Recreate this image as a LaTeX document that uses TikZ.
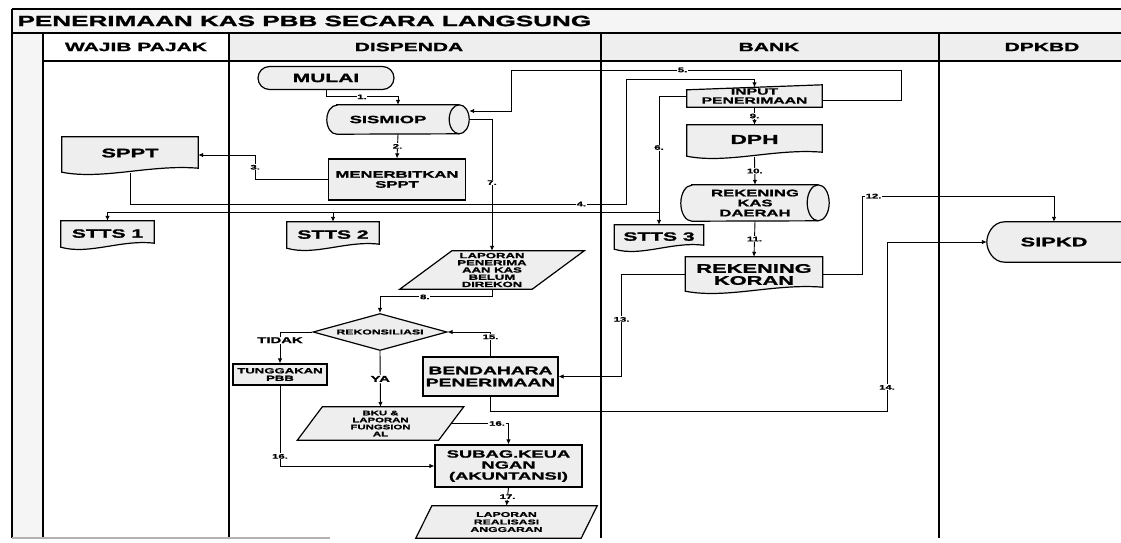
\documentclass[tikz,border=0pt]{standalone}
\usepackage{fontspec}
\newfontfamily\flowfont[UprightFont={* Bold},FakeStretch=1.75,FakeBold=1.5]{Liberation Sans}
\usetikzlibrary{shapes.geometric,arrows.meta,backgrounds,calc}
\colorlet{boxgray}{gray!13}
\colorlet{bandgray}{gray!8}
\newcommand\fsz[2]{\fontsize{#1}{#2}\selectfont}
\tikzset{shp/.style={draw,line width=1.2pt,fill=boxgray}}
% outlines of the flowchart symbols, drawn round a plain node
\newcommand\docout[1]{\path[shp] (#1.north west) -- (#1.north east) -- ([yshift=5pt]#1.south east)
  .. controls ($(#1.south east)!0.35!(#1.south west)+(0,9pt)$) and ($(#1.south east)!0.7!(#1.south west)+(0,-7pt)$) .. ([yshift=1pt]#1.south west) -- cycle;}
\newcommand\cylout[3]{\path[shp] ([xshift=#2]#1.north west) -- ([xshift=-#2]#1.north east)
  arc[start angle=90,end angle=-90,x radius=#2,y radius=#3] -- ([xshift=#2]#1.south west)
  arc[start angle=270,end angle=90,x radius=#2,y radius=#3] -- cycle;
  \draw[line width=1.2pt] ([xshift=-#2]#1.north east) arc[start angle=90,end angle=270,x radius=#2,y radius=#3];}
\newcommand\paraout[2]{\path[shp] ([xshift=-#2]#1.south west) -- ([xshift=#2]#1.north west) -- ([xshift=#2]#1.north east) -- ([xshift=-#2]#1.south east) -- cycle;}
\newcommand\inout[1]{\path[shp] (#1.south west) -- ([yshift=-5pt]#1.north west) -- (#1.north east) -- (#1.south east) -- cycle;}
\begin{document}
\begin{tikzpicture}[x=1pt,y=-1pt,
  frame/.style={line width=1.2pt},
  box/.style={shp,inner sep=1pt,align=center},
  plain/.style={inner sep=0pt,align=center},
  arr/.style={line width=0.9pt,-{Latex[length=5pt,width=4.5pt]}},
  con/.style={line width=0.9pt},
  lbl/.style={font=\flowfont\fsz{6.5}{7},fill=white,inner sep=0.7pt},
  hdr/.style={font=\flowfont\fsz{12}{13}}]
\useasboundingbox (0,0) rectangle (1121,542);
% swimlanes
\fill[bandgray] (12,9) rectangle (1121,33);
\fill[boxgray] (229,33) rectangle (1121,61);
\fill[bandgray] (12,33) rectangle (43,538);
\draw[frame] (12,9) -- (1121,9) (12,33) -- (1121,33) (43,61) -- (1121,61);
\draw[frame] (12,9) -- (12,538) (43,33) -- (43,538) (229,33) -- (229,538) (601,33) -- (601,538) (939,33) -- (939,538);
\draw[frame,gray!60] (12,538) -- (330,538);
\node[font=\flowfont\fsz{14.9}{16},anchor=west] (judul) at (14,21) {PENERIMAAN KAS PBB SECARA LANGSUNG};
\node[hdr] (hwp) at (136,47) {WAJIB PAJAK};
\node[hdr] (hdis) at (409,47) {DISPENDA};
\node[hdr] (hbank) at (769,47) {BANK};
\node[hdr] (hdpk) at (1042,47) {DPKBD};

% dispenda
\node[shp,rounded corners=11.5pt,minimum width=136pt,minimum height=23pt,font=\flowfont\fsz{12}{12}] (mulai) at (326,78) {MULAI};
\node[plain,minimum width=142pt,minimum height=29pt,font=\flowfont\fsz{10.5}{11}] (sismiop) at (398,119.5) {SISMIOP\hspace*{20pt}};
\node[box,minimum width=137pt,minimum height=41pt,font=\flowfont\fsz{9.5}{10}] (terbit) at (397,179.5) {MENERBITKAN\\SPPT};
\node[plain,minimum width=92pt,minimum height=27pt,font=\flowfont\fsz{12}{12}] (stts2) at (333,235.5) {\raisebox{2pt}{STTS 2}};
\node[plain,minimum width=132pt,minimum height=38pt,font=\flowfont\fsz{7.5}{7.2}] (lap) at (492,270) {LAPORAN\\PENERIMA\\AAN KAS\\BELUM\\DIREKON};
\node[shp,diamond,aspect=3.6,inner sep=0pt,minimum width=134pt,minimum height=37pt,font=\flowfont\fsz{7}{7}] (rek) at (380,332) {REKONSILIASI};
\node[box,minimum width=94pt,minimum height=21pt,font=\flowfont\fsz{7.5}{7.5}] (tung) at (280,374.5) {TUNGGAKAN\\PBB};
\node[box,minimum width=135pt,minimum height=39pt,font=\flowfont\fsz{11}{12}] (bend) at (490.5,376.5) {BENDAHARA\\PENERIMAAN};
\node[plain,minimum width=141pt,minimum height=33pt,font=\flowfont\fsz{6.5}{7}] (bku) at (380.5,423.5) {BKU \&\\LAPORAN\\FUNGSION\\AL};
\node[box,minimum width=147pt,minimum height=42pt,font=\flowfont\fsz{10.5}{11}] (sub) at (508.5,466) {SUBAG.KEUA\\NGAN\\(AKUNTANSI)};
\node[plain,minimum width=165pt,minimum height=32pt,font=\flowfont\fsz{7}{7.5}] (lr) at (506.5,522) {LAPORAN\\REALISASI\\ANGGARAN};

% wajib pajak
\node[plain,minimum width=136pt,minimum height=36pt,font=\flowfont\fsz{12.5}{13}] (sppt) at (130,155) {\raisebox{4pt}{SPPT}};
\node[plain,minimum width=93pt,minimum height=27pt,font=\flowfont\fsz{12}{12}] (stts1) at (107.5,234.5) {\raisebox{2pt}{STTS 1}};

% bank
\node[plain,minimum width=135pt,minimum height=22pt,font=\flowfont\fsz{9}{9}] (inp) at (754.5,96) {INPUT\\PENERIMAAN};
\node[plain,minimum width=135pt,minimum height=32pt,font=\flowfont\fsz{13}{13}] (dph) at (754.5,141) {\raisebox{3pt}{DPH}};
\node[plain,minimum width=148pt,minimum height=36pt,font=\flowfont\fsz{9.5}{10}] (rkd) at (755,203) {REKENING\\KAS\\DAERAH};
\node[plain,minimum width=89pt,minimum height=25pt,font=\flowfont\fsz{12}{12}] (stts3) at (659,237.5) {\raisebox{2pt}{STTS 3}};
\node[plain,minimum width=137pt,minimum height=35pt,font=\flowfont\fsz{12.5}{12}] (rk) at (754,274.5) {REKENING\\KORAN};

% dpkbd
\node[plain,minimum width=134pt,minimum height=40pt,font=\flowfont\fsz{12.5}{13}] (sipkd) at (1054,242) {SIPKD};

\begin{scope}[on background layer]
\cylout{sismiop}{10pt}{14.5pt}
\cylout{rkd}{11pt}{18pt}
\docout{sppt} \docout{stts1} \docout{stts2} \docout{stts3} \docout{dph} \docout{rk}
\paraout{lap}{26pt} \paraout{bku}{12.5pt} \paraout{lr}{8pt}
\inout{inp}
\path[shp] (sipkd.north east) -- ([xshift=18pt]sipkd.north west) .. controls ([xshift=6pt]sipkd.north west) and ([yshift=8pt]sipkd.west) .. (sipkd.west)
  .. controls ([yshift=-8pt]sipkd.west) and ([xshift=6pt]sipkd.south west) .. ([xshift=18pt]sipkd.south west) -- (sipkd.south east);
\end{scope}

% alur
\draw[arr] (mulai.south) |- node[lbl,pos=0.75] (l1) {1.} ([yshift=8pt]sismiop.north) -- (sismiop.north);
\draw[arr] (sismiop.south) -- node[lbl] (l2) {2.} (terbit.north);
\draw[arr] (terbit.west) -| node[lbl,pos=0.75] (l3) {3.} ([xshift=57pt]sppt.east) -- (sppt.east);
\draw[arr] (sppt.south) |- node[lbl,pos=0.955] (l4) {4.} (626,204) -- (626,79) -| ([yshift=-2.5pt]inp.north);
\draw[arr] ([yshift=-4pt]inp.east) -- (901,100) -- (901,70) -- node[lbl,pos=0.56] (l5) {5.} (511,70) -- (511,111) -- ([yshift=8.5pt]sismiop.east);
\draw[arr] (inp.west) -| node[lbl,pos=0.7] (l6) {6.} (stts3.north);
\draw[arr] (stts3.north |- 0,212) -| (stts1.north);
\draw[arr] (stts2.north |- 0,212) -- (stts2.north);
\draw[arr] (sismiop.east) -| node[lbl,pos=0.74] (l7) {7.} (lap.north);
\draw[arr] (lap.south) |- node[lbl,pos=0.8] (l8) {8.} ([yshift=16pt]rek.north) -- (rek.north);
\draw[arr] (inp.south) -- node[lbl] (l9) {9.} (dph.north);
\draw[arr] (dph.south) -- node[lbl] (l10) {10.} (rkd.north);
\draw[arr] (rkd.south) -- node[lbl] (l11) {11.} (rk.north);
\draw[arr] (rk.east) -| (862,196) -- node[lbl,pos=0.06] (l12) {12.} (sipkd.north |- 0,196) -- (sipkd.north);
\draw[arr] (rk.west) -| node[lbl,pos=0.72] (l13) {13.} ([xshift=63pt]bend.east) -- (bend.east);
\draw[arr] (bend.south) |- (887,411) -- node[lbl,pos=0.14] (l14) {14.} (887,242) -- (sipkd.west);
\draw[arr] (bend.north) |- node[lbl,pos=0.4] (l15) {15.} (rek.east);
\draw[arr] (rek.west) -| node[lbl,pos=0.63,font=\flowfont\fsz{8.5}{9}] (ltidak) {TIDAK} (tung.north);
\draw[arr] (rek.south) -- node[lbl,font=\flowfont\fsz{8.5}{9}] (lya) {YA} (bku.north);
\draw[arr] (bku.east) -| node[lbl,pos=0.4] (l16) {16.} (sub.north);
\draw[arr] (tung.south) |- node[lbl,pos=0.44] (l16b) {16.} (sub.west);
\draw[arr] (sub.south) -- node[lbl] (l17) {17.} (lr.north);
\end{tikzpicture}
\end{document}
